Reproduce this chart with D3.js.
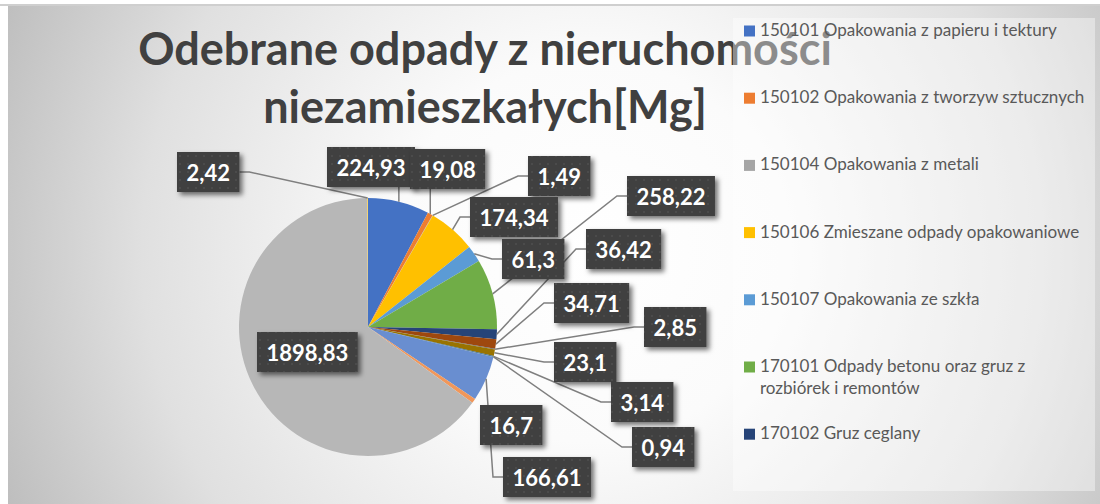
<!DOCTYPE html>
<html>
<head>
<meta charset="utf-8">
<script src="https://cdn.jsdelivr.net/npm/d3@7"></script>
<style>
  body { margin: 0; background: #ffffff; }
  svg { display: block; }
</style>
</head>
<body>
<svg id="chart" width="1100" height="504"></svg>
<script>
// values in Mg, clockwise from 12 o'clock
var values = [224.93, 19.08, 1.49, 174.34, 61.3, 258.22, 36.42, 34.71, 2.85, 23.1, 3.14, 0.94, 166.61, 16.7, 1898.83, 2.42];
var colors = ["#4472C4", "#ED7D31", "#A5A5A5", "#FFC000", "#5B9BD5", "#70AD47", "#264478", "#9E480E",
              "#636363", "#997300", "#255E91", "#43682B", "#698ED0", "#F1975A", "#B7B7B7", "#FFCD33"];
// only the first entries of the legend are visible in the chart
var legendNames = [
    ["150101 Opakowania z papieru i tektury"],
    ["150102 Opakowania z tworzyw sztucznych"],
    ["150104 Opakowania z metali"],
    ["150106 Zmieszane odpady opakowaniowe"],
    ["150107 Opakowania ze szkła"],
    ["170101 Odpady betonu oraz gruz z", "rozbiórek i remontów"],
    ["170102 Gruz ceglany"]
];
var titleLines = ["Odebrane odpady z nieruchomości", "niezamieszkałych[Mg]"];

// label box placement (top-left), as dragged in the original sheet
var labelPos = [[327, 147], [410, 149], [528, 156], [470, 197], [502, 239], [627, 176], [586, 229], [554, 283],
                [644, 307], [554, 342], [611, 382], [632, 427], [503, 457], [480, 405], [257, 332], [177, 152]];
var labelLeader = [true, true, true, true, true, true, true, true, true, true, true, true, true, false, false, true];

var fmt = d3.formatLocale({ decimal: ",", thousands: " ", grouping: [3], currency: ["", ""] }).format("~f");

var svg = d3.select("#chart");
var defs = svg.append("defs");

var bg = defs.append("radialGradient")
    .attr("id", "bgGrad")
    .attr("gradientUnits", "userSpaceOnUse")
    .attr("cx", 590).attr("cy", 250).attr("r", 640);
bg.append("stop").attr("offset", "0").attr("stop-color", "#ffffff");
bg.append("stop").attr("offset", "0.3").attr("stop-color", "#fbfbfb");
bg.append("stop").attr("offset", "0.7").attr("stop-color", "#e0e0e0");
bg.append("stop").attr("offset", "1").attr("stop-color", "#bdbdbd");

var dots = defs.append("pattern")
    .attr("id", "dots")
    .attr("patternUnits", "userSpaceOnUse")
    .attr("width", 8).attr("height", 8);
dots.append("rect").attr("width", 8).attr("height", 8).attr("fill", "#3f3f3f");
dots.append("circle").attr("cx", 4).attr("cy", 4).attr("r", 1.3).attr("fill", "#4b4b4b");

var shadow = defs.append("filter")
    .attr("id", "shadow")
    .attr("x", "-20%").attr("y", "-20%").attr("width", "150%").attr("height", "150%");
shadow.append("feDropShadow")
    .attr("dx", 3).attr("dy", 3).attr("stdDeviation", 2.5)
    .attr("flood-color", "#000").attr("flood-opacity", 0.55);

/*
    Background
*/
svg.append("rect")
    .attr("x", 8).attr("y", 6).attr("width", 1092).attr("height", 498)
    .attr("fill", "url(#bgGrad)");
svg.append("line")
    .attr("x1", 0).attr("x2", 1100).attr("y1", 5).attr("y2", 5)
    .attr("stroke", "#cfcfcf").attr("stroke-width", 2);

/*
    Title
*/
var title = svg.append("g")
    .attr("fill", "#404040")
    .attr("font-family", "Lato, 'Open Sans', sans-serif")
    .attr("font-weight", "bold")
    .attr("text-anchor", "middle");
var titleText = title.selectAll("text").data(titleLines).enter().append("text")
    .attr("x", 485)
    .attr("y", function (d, i) { return 65 + i * 58; })
    .attr("font-size", 40)
    .text(function (d) { return d; });
var tw = titleText.node().getComputedTextLength();
titleText.attr("font-size", 40 * 694 / tw);

/*
    Legend
*/
svg.append("rect")
    .attr("x", 733).attr("y", 18).attr("width", 362).attr("height", 473)
    .attr("fill", "#ffffff").attr("opacity", 0.4);
var legend = svg.append("g")
    .attr("font-family", "Lato, 'Open Sans', sans-serif")
    .attr("fill", "#595959");
var items = legend.selectAll("g").data(legendNames).enter().append("g")
    .attr("transform", function (d, i) { return "translate(744," + (31 + i * 67.2) + ")"; });
items.append("rect")
    .attr("x", 0).attr("y", -5.5).attr("width", 11).attr("height", 11)
    .attr("fill", function (d, i) { return colors[i]; });
var legendText = items.append("text")
    .attr("x", 16)
    .attr("y", 5)
    .attr("font-size", 16);
legendText.selectAll("tspan").data(function (d) { return d; }).enter().append("tspan")
    .attr("x", 16)
    .attr("dy", function (d, i) { return i === 0 ? 0 : 22; })
    .text(function (d) { return d; });
var lw = legendText.node().getComputedTextLength();
legendText.attr("font-size", 16 * 297 / lw);

/*
    Pie
*/
var cx = 368, cy = 327, radius = 129;
var pie = d3.pie().sort(null).value(function (d) { return d; });
var arcs = pie(values);
var arc = d3.arc().innerRadius(0).outerRadius(radius);
var edgeArc = d3.arc().innerRadius(radius).outerRadius(radius);

var pieG = svg.append("g").attr("transform", "translate(" + cx + "," + cy + ")");
pieG.selectAll("path").data(arcs).enter().append("path")
    .attr("d", arc)
    .attr("fill", function (d, i) { return colors[i]; });

/*
    Data labels
*/
var labelG = svg.append("g")
    .attr("font-family", "Lato, 'Open Sans', sans-serif")
    .attr("font-weight", "bold")
    .attr("font-size", 22);

// measure texts first so boxes fit them
var measure = labelG.append("text").attr("visibility", "hidden");
var boxes = arcs.map(function (d, i) {
    measure.text(fmt(d.data));
    var w = measure.node().getComputedTextLength() + 19;
    return { x: labelPos[i][0], y: labelPos[i][1], w: w, h: 40, arc: d, i: i };
});
measure.remove();

var leaders = boxes.filter(function (b) { return labelLeader[b.i]; }).map(function (b) {
    var c = edgeArc.centroid(b.arc);
    var px = cx + c[0], py = cy + c[1];
    var pts;
    if (px >= b.x && px <= b.x + b.w) {
        pts = [[px, py], [px, py < b.y ? b.y : b.y + b.h]];
    } else if (b.x > px) {
        pts = [[px, py], [b.x - 10, b.y + b.h / 2], [b.x, b.y + b.h / 2]];
    } else {
        pts = [[px, py], [b.x + b.w + 10, b.y + b.h / 2], [b.x + b.w, b.y + b.h / 2]];
    }
    return pts;
});
labelG.selectAll("path.leader").data(leaders).enter().append("path")
    .attr("class", "leader")
    .attr("d", d3.line())
    .attr("fill", "none")
    .attr("stroke", "#7f7f7f")
    .attr("stroke-width", 1.5);

var labelBoxes = labelG.selectAll("g.lbl").data(boxes).enter().append("g")
    .attr("class", "lbl");
labelBoxes.append("rect")
    .attr("x", function (d) { return d.x; })
    .attr("y", function (d) { return d.y; })
    .attr("width", function (d) { return d.w; })
    .attr("height", function (d) { return d.h; })
    .attr("fill", "url(#dots)")
    .attr("filter", "url(#shadow)");
labelBoxes.append("text")
    .attr("x", function (d) { return d.x + d.w / 2; })
    .attr("y", function (d) { return d.y + 29; })
    .attr("text-anchor", "middle")
    .attr("fill", "#ffffff")
    .text(function (d) { return fmt(d.arc.data); });
</script>
</body>
</html>
